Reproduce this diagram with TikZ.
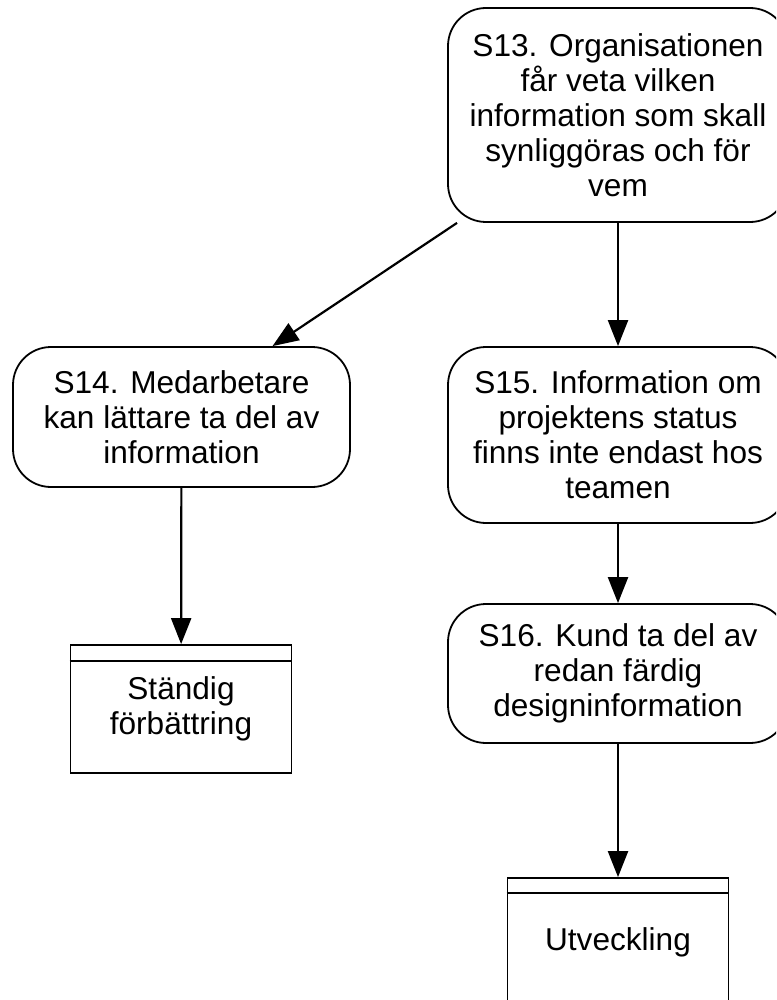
\documentclass[tikz,border=0pt]{standalone}
\usepackage{fontspec}
\setmainfont{Liberation Sans}
\usetikzlibrary{arrows.meta}
\begin{document}
\begin{tikzpicture}[x=1pt,y=-1pt,
  every node/.style={font=\fontsize{31.6}{35}\selectfont, align=center, inner sep=0pt},
  roundbox/.style={draw, line width=1.8pt, rounded corners=38pt, minimum width=340pt},
  storebox/.style={draw, line width=1.8pt, minimum width=221pt, minimum height=128pt},
  conn/.style={line width=2.2pt, -{Triangle[length=26pt,width=20pt]}}
]
\useasboundingbox (0,0) rectangle (776,1000);
\clip (0,0) rectangle (776,1000);
\node[roundbox, minimum height=214pt] (s13) at (618,115) {S13. Organisationen\\får veta vilken\\information som skall\\synliggöras och för\\vem};
\node[roundbox, minimum width=337pt, minimum height=140pt] (s14) at (181.5,417) {S14. Medarbetare\\kan lättare ta del av\\information};
\node[roundbox, minimum height=176pt] (s15) at (618,435) {S15. Information om\\projektens status\\finns inte endast hos\\teamen};
\node[roundbox, minimum height=139pt] (s16) at (618,673.5) {S16. Kund ta del av\\redan färdig\\designinformation};
\node[storebox] (st) at (181,709) {Ständig\\förbättring};
\node[storebox] (ut) at (618,942) {Utveckling};
\draw[line width=1.8pt] ([yshift=-17pt]st.north west) -- ([yshift=-17pt]st.north east);
\draw[line width=1.8pt] ([yshift=-16pt]ut.north west) -- ([yshift=-16pt]ut.north east);
\coordinate (s14in) at ([xshift=91pt]s14.north);
\draw[conn] (s13) -- (s14in);
\draw[conn] (s13) -- (s15);
\draw[conn] (s14) -- (st);
\draw[conn] (s15) -- (s16);
\draw[conn] (s16) -- (ut);
\end{tikzpicture}
\end{document}
